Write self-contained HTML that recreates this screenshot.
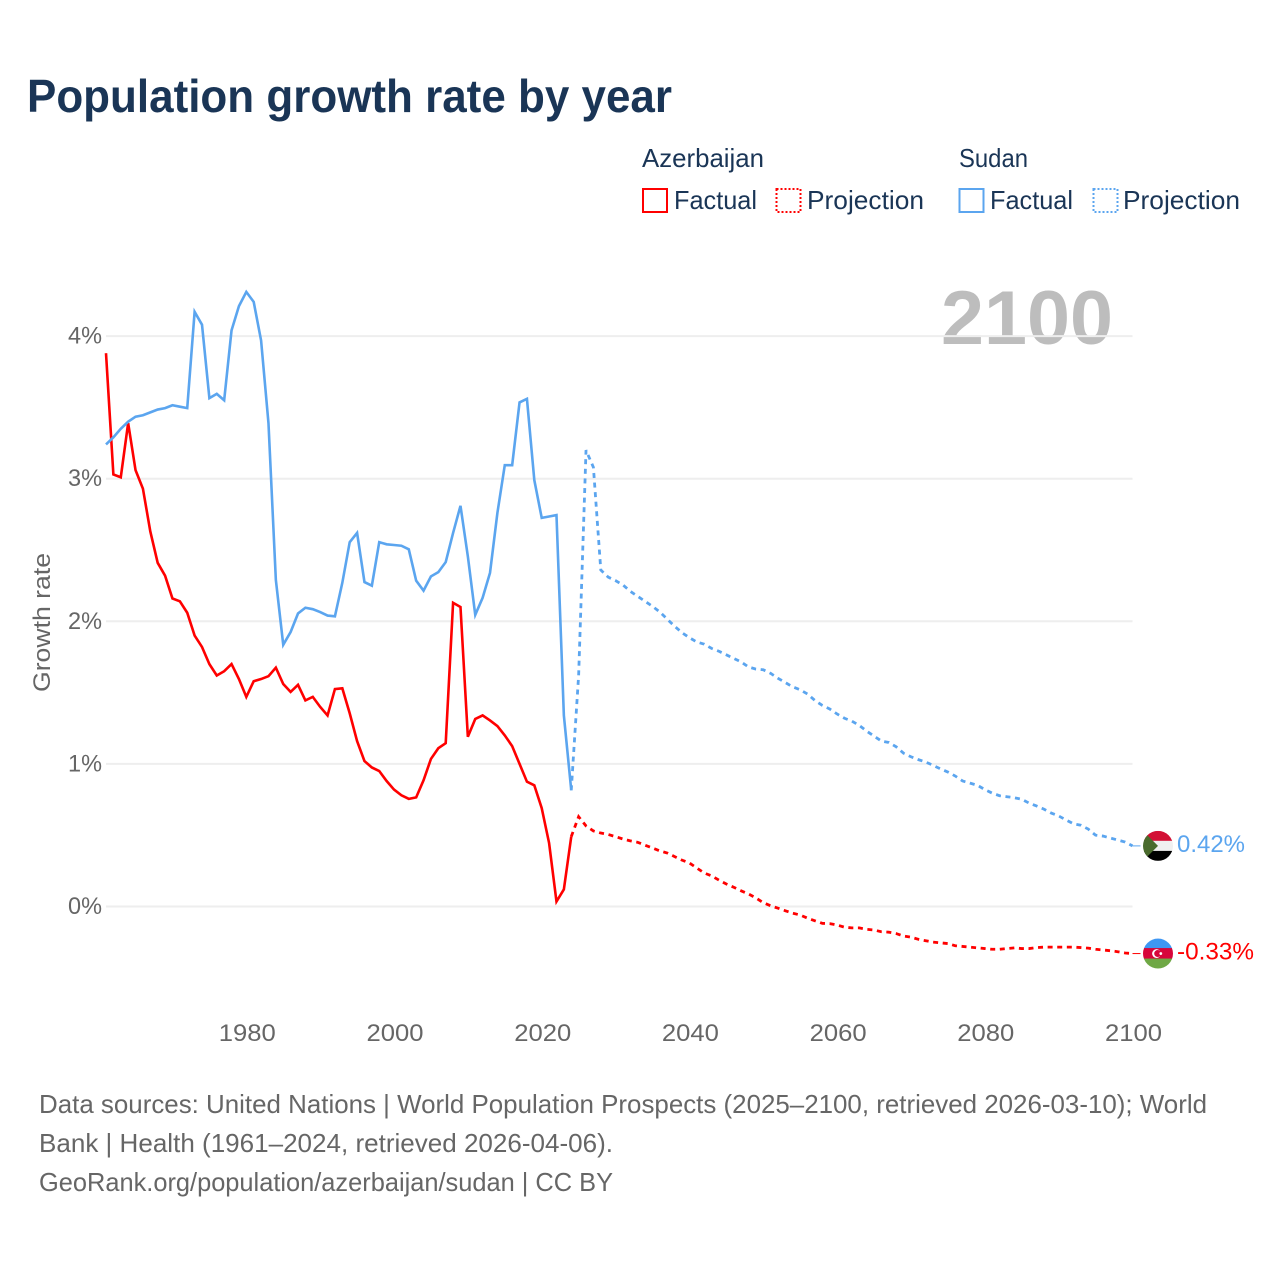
<!DOCTYPE html>
<html lang="en">
<head>
<meta charset="utf-8">
<title>Population growth rate by year</title>
<style>
html,body{margin:0;padding:0;background:#fff;}
svg{display:block;font-family:"Liberation Sans",sans-serif;}
</style>
</head>
<body>
<svg id="chart" width="1280" height="1280" viewBox="0 0 1280 1280" xmlns="http://www.w3.org/2000/svg">
  <rect width="1280" height="1280" fill="#ffffff"/>
  <text x="27" y="112" font-size="46" font-weight="700" fill="#1a3556" textLength="645" lengthAdjust="spacingAndGlyphs">Population growth rate by year</text>

  <g font-size="26" fill="#1a3556">
    <text x="642" y="167" textLength="122" lengthAdjust="spacingAndGlyphs">Azerbaijan</text>
    <text x="959" y="167" textLength="69" lengthAdjust="spacingAndGlyphs">Sudan</text>
    <rect x="643" y="189" width="24" height="23" fill="none" stroke="#ff0000" stroke-width="2"/>
    <text x="674" y="209" textLength="83" lengthAdjust="spacingAndGlyphs">Factual</text>
    <rect x="776.5" y="189" width="24" height="23" fill="none" stroke="#ff0000" stroke-width="2" stroke-dasharray="2 2"/>
    <text x="807" y="209" textLength="117" lengthAdjust="spacingAndGlyphs">Projection</text>
    <rect x="959.5" y="189" width="24" height="23" fill="none" stroke="#5ba5ef" stroke-width="2"/>
    <text x="990" y="209" textLength="83" lengthAdjust="spacingAndGlyphs">Factual</text>
    <rect x="1093.5" y="189" width="24" height="23" fill="none" stroke="#5ba5ef" stroke-width="2" stroke-dasharray="2 2"/>
    <text x="1123" y="209" textLength="117" lengthAdjust="spacingAndGlyphs">Projection</text>
  </g>

  <text x="941" y="344" font-size="76" font-weight="700" fill="#bdbdbd" textLength="172" lengthAdjust="spacingAndGlyphs">2100</text>
  <text transform="translate(50,692) rotate(-90)" font-size="24" fill="#666666" textLength="139" lengthAdjust="spacingAndGlyphs">Growth rate</text>

  <g id="grid"></g>
  <g id="yticks"></g>
  <g id="xticks"></g>
  <g id="series"></g>
  <g id="flags"></g>

  <g font-size="26" fill="#666666">
    <text x="39" y="1113" textLength="1168" lengthAdjust="spacingAndGlyphs">Data sources: United Nations | World Population Prospects (2025–2100, retrieved 2026-03-10); World</text>
    <text x="39" y="1152" textLength="574" lengthAdjust="spacingAndGlyphs">Bank | Health (1961–2024, retrieved 2026-04-06).</text>
    <text x="39" y="1191" textLength="574" lengthAdjust="spacingAndGlyphs">GeoRank.org/population/azerbaijan/sudan | CC BY</text>
  </g>
</svg>
<script>
const factualStartYear = 1961;
const projectionStartYear = 2024;

const yTickValues = [0, 1, 2, 3, 4];
const yTickLabels = ["0%", "1%", "2%", "3%", "4%"];
const xTickYears = [1980, 2000, 2020, 2040, 2060, 2080, 2100];
const xTickLabels = ["1980", "2000", "2020", "2040", "2060", "2080", "2100"];

const azerbaijanFactual = [
  3.88,3.03,3.01,3.39,3.06,2.93,2.63,2.41,2.32,
  2.16,2.14,2.06,1.90,1.82,1.70,1.62,1.65,1.70,1.595,
  1.47,1.58,1.595,1.615,1.675,1.56,1.505,1.555,1.445,1.47,
  1.40,1.34,1.525,1.53,1.355,1.16,1.02,0.975,0.95,0.88,
  0.82,0.78,0.755,0.765,0.885,1.035,1.11,1.145,2.13,2.10,
  1.19,1.315,1.34,1.305,1.265,1.20,1.125,1.0,0.875,0.85,
  0.69,0.445,0.035,0.12,0.49
];
const azerbaijanProjection = [
  0.49,0.63,0.565,0.53,0.515,0.505,
  0.49,0.473,0.46,0.45,0.43,0.41,0.39,0.375,0.35,0.325,
  0.305,0.27,0.235,0.215,0.185,0.158,0.135,0.11,0.088,0.06,
  0.027,0.005,-0.012,-0.03,-0.047,-0.06,-0.082,-0.10,-0.118,-0.12,
  -0.13,-0.145,-0.15,-0.15,-0.16,-0.165,-0.177,-0.18,-0.19,-0.207,
  -0.215,-0.23,-0.24,-0.25,-0.255,-0.26,-0.275,-0.28,-0.285,-0.29,
  -0.295,-0.30,-0.30,-0.295,-0.29,-0.295,-0.295,-0.288,-0.285,-0.285,
  -0.285,-0.285,-0.285,-0.288,-0.292,-0.30,-0.305,-0.31,-0.317,-0.326,
  -0.33
];
const sudanFactual = [
  3.24,3.29,3.35,3.40,3.435,3.445,3.465,3.485,3.495,
  3.515,3.505,3.495,4.17,4.08,3.565,3.595,3.55,4.04,4.21,
  4.31,4.24,3.97,3.39,2.29,1.835,1.925,2.055,2.095,2.085,
  2.065,2.04,2.035,2.27,2.555,2.62,2.275,2.25,2.555,2.54,
  2.535,2.53,2.505,2.285,2.215,2.315,2.345,2.415,2.62,2.81,
  2.455,2.045,2.165,2.34,2.76,3.095,3.095,3.535,3.56,2.99,
  2.725,2.735,2.745,1.34,0.815
];
const sudanProjection = [
  0.815,1.62,3.2,3.08,2.36,2.31,
  2.285,2.255,2.21,2.175,2.14,2.105,2.065,2.015,1.965,1.92,
  1.885,1.855,1.84,1.81,1.79,1.765,1.74,1.715,1.68,1.665,
  1.66,1.635,1.60,1.57,1.54,1.52,1.49,1.445,1.41,1.385,
  1.35,1.32,1.30,1.27,1.23,1.195,1.16,1.15,1.12,1.075,
  1.05,1.03,1.013,0.99,0.965,0.943,0.915,0.88,0.865,0.85,
  0.82,0.795,0.777,0.77,0.763,0.752,0.725,0.705,0.683,0.655,
  0.635,0.607,0.58,0.57,0.543,0.50,0.494,0.48,0.466,0.452,
  0.425
];
const endValueLabels = ["-0.33%", "0.42%"];

const SVG_NS = "http://www.w3.org/2000/svg";
const RED = "#ff0000";
const BLUE = "#5ba5ef";

function xScale(year) { return 106 + (year - 1961) * 7.3849; }
function yScale(v) { return 906.5 - v * 142.6; }

function make(tag, parent, attrs) {
  const el = document.createElementNS(SVG_NS, tag);
  for (const k in attrs) el.setAttribute(k, attrs[k]);
  parent.appendChild(el);
  return el;
}
function linePath(values, startYear) {
  return values.map((v, i) =>
    (i ? "L" : "M") + xScale(startYear + i).toFixed(2) + " " + yScale(v).toFixed(2)
  ).join("");
}

const gridGroup = document.getElementById("grid");
const yTickGroup = document.getElementById("yticks");
const xTickGroup = document.getElementById("xticks");
const seriesGroup = document.getElementById("series");
const flagGroup = document.getElementById("flags");

yTickValues.forEach((v, i) => {
  const line = make("line", gridGroup, { x1: 106, x2: xScale(2100), y1: yScale(v), y2: yScale(v), stroke: "#eeeeee", "stroke-width": 2 });
  
  
  const label = make("text", yTickGroup, { x: 102, y: yScale(v) + 7.5, "text-anchor": "end", "font-size": 24, fill: "#666666", textLength: 34, lengthAdjust: "spacingAndGlyphs" });
  label.textContent = yTickLabels[i];
  
  
});

xTickYears.forEach((year, i) => {
  const label = make("text", xTickGroup, { x: xScale(year) + 1, y: 1041, "text-anchor": "middle", "font-size": 24, fill: "#666666", textLength: 57, lengthAdjust: "spacingAndGlyphs" });
  label.textContent = xTickLabels[i];
  
  
});

const azFactualLine = make("path", seriesGroup, { d: linePath(azerbaijanFactual, factualStartYear), fill: "none", stroke: RED, "stroke-width": 2.6 });



const sdFactualLine = make("path", seriesGroup, { d: linePath(sudanFactual, factualStartYear), fill: "none", stroke: BLUE, "stroke-width": 2.6 });



const azProjectionLine = make("path", seriesGroup, { d: linePath(azerbaijanProjection, projectionStartYear), fill: "none", stroke: RED, "stroke-width": 2.8, "stroke-dasharray": "5 4.6" });



const sdProjectionLine = make("path", seriesGroup, { d: linePath(sudanProjection, projectionStartYear), fill: "none", stroke: BLUE, "stroke-width": 2.8, "stroke-dasharray": "5 4.6" });



const azEnd = azerbaijanProjection[azerbaijanProjection.length - 1];
const sdEnd = sudanProjection[sudanProjection.length - 1];
const endX = xScale(2100);

const azLead = make("line", seriesGroup, { x1: endX, x2: endX + 8, y1: yScale(azEnd), y2: yScale(azEnd), stroke: RED, "stroke-width": 1 });


const sdLead = make("line", seriesGroup, { x1: endX, x2: endX + 8, y1: yScale(sdEnd), y2: yScale(sdEnd), stroke: BLUE, "stroke-width": 1 });



/* End markers: flags clipped to circles */
const defs = make("defs", flagGroup, {});
const fx = endX + 25.5;
const sy = yScale(sdEnd);
const ay = yScale(azEnd);
const sClip = make("clipPath", defs, { id: "clip-sudan" });
make("circle", sClip, { cx: fx, cy: sy, r: 15 });
const aClip = make("clipPath", defs, { id: "clip-azerbaijan" });
make("circle", aClip, { cx: fx, cy: ay, r: 15 });

const sudanFlag = make("g", flagGroup, { "clip-path": "url(#clip-sudan)" });


make("rect", sudanFlag, { x: fx - 15, y: sy - 15, width: 30, height: 10, fill: "#d21034" });
make("rect", sudanFlag, { x: fx - 15, y: sy - 5, width: 30, height: 10, fill: "#f0f0f0" });
make("rect", sudanFlag, { x: fx - 15, y: sy + 5, width: 30, height: 10, fill: "#000000" });
make("polygon", sudanFlag, { points: (fx - 15) + "," + (sy - 15) + " " + fx + "," + sy + " " + (fx - 15) + "," + (sy + 15), fill: "#4a6b2d" });

const azFlag = make("g", flagGroup, { "clip-path": "url(#clip-azerbaijan)" });


make("rect", azFlag, { x: fx - 15, y: ay - 15, width: 30, height: 10, fill: "#3f97f3" });
make("rect", azFlag, { x: fx - 15, y: ay - 5.5, width: 30, height: 11, fill: "#d7063b" });
make("rect", azFlag, { x: fx - 15, y: ay + 5, width: 30, height: 10, fill: "#6fa845" });
make("circle", azFlag, { cx: fx - 1.5, cy: ay, r: 4.4, fill: "#ffffff" });
make("circle", azFlag, { cx: fx - 0.3, cy: ay, r: 3.5, fill: "#d7063b" });
make("circle", azFlag, { cx: fx + 2.8, cy: ay, r: 1.4, fill: "#ffffff" });

const azValue = make("text", flagGroup, { x: 1177, y: ay + 6, "font-size": 24, fill: RED, textLength: 77, lengthAdjust: "spacingAndGlyphs" });
azValue.textContent = endValueLabels[0];



const sdValue = make("text", flagGroup, { x: 1177, y: sy + 6, "font-size": 24, fill: BLUE, textLength: 68, lengthAdjust: "spacingAndGlyphs" });
sdValue.textContent = endValueLabels[1];


</script>
</body>
</html>
